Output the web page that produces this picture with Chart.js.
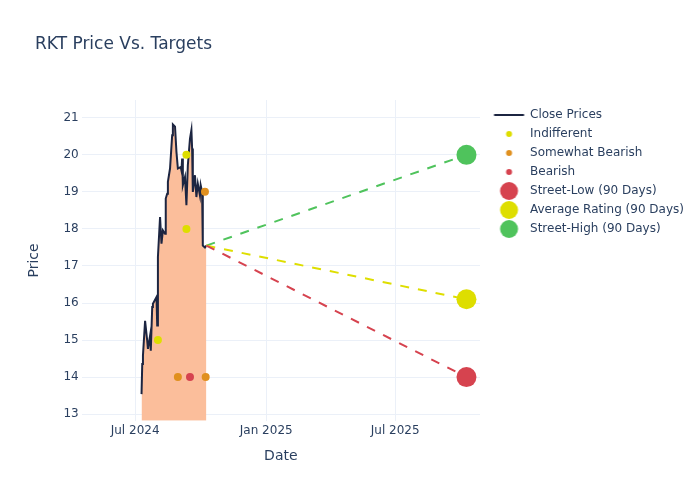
<!DOCTYPE html>
<html>
<head>
<meta charset="utf-8">
<script src="https://cdn.jsdelivr.net/npm/chart.js@4.4.1/dist/chart.umd.min.js"></script>
<style>
  body { margin: 0; background: #fff; }
  #wrap { width: 700px; height: 500px; }
</style>
</head>
<body>
<div id="wrap"><canvas id="chart" width="700" height="500"></canvas></div>
<script>
const titleText = "RKT Price Vs. Targets";

const closeDates = [
  "2024-07-10", "2024-07-11", "2024-07-12", "2024-07-15", "2024-07-18", "2024-07-19",
  "2024-07-22", "2024-07-23", "2024-07-25", "2024-07-26", "2024-07-31", "2024-08-01",
  "2024-08-02", "2024-08-05", "2024-08-07", "2024-08-09", "2024-08-12", "2024-08-13",
  "2024-08-15", "2024-08-16", "2024-08-19", "2024-08-22", "2024-08-23", "2024-08-26",
  "2024-08-28", "2024-08-30", "2024-09-03", "2024-09-04", "2024-09-05", "2024-09-06",
  "2024-09-09", "2024-09-11", "2024-09-13", "2024-09-16", "2024-09-18", "2024-09-19",
  "2024-09-20", "2024-09-23", "2024-09-25", "2024-09-27", "2024-09-30", "2024-10-01",
  "2024-10-03", "2024-10-04", "2024-10-07", "2024-10-09"
];
const closePrices = [
  13.54, 14.35, 14.58, 15.52, 14.98, 14.76,
  15.12, 14.71, 15.89, 15.98, 16.16, 15.39,
  17.24, 18.32, 17.60, 17.96, 17.87, 18.82,
  18.95, 19.27, 19.63, 20.53, 20.82, 20.76,
  20.08, 19.63, 19.67, 19.58, 19.90, 19.18,
  19.40, 18.64, 19.72, 20.44, 20.67, 20.17,
  19.00, 19.45, 18.86, 19.22, 18.90, 19.18,
  19.00, 17.55, 17.50, 17.55
];

const indifferentDates = ["2024-08-02", "2024-09-11", "2024-09-11"];
const indifferentValues = [15, 20, 18];
const somewhatBearishDates = ["2024-08-30", "2024-10-07", "2024-10-08"];
const somewhatBearishValues = [14, 19, 14];
const bearishDates = ["2024-09-16"];
const bearishValues = [14];

const targetDate = "2025-10-09";
const streetLow = 14;
const averageRating = 16.1;
const streetHigh = 20;

const xTickDates = ["2024-07-01", "2025-01-01", "2025-07-01"];
const xTickLabels = ["Jul 2024", "Jan 2025", "Jul 2025"];

const t = s => Date.parse(s + "T00:00:00Z");
const pts = (dates, vals) => dates.map((d, i) => ({ x: t(d), y: vals[i] }));

const navy = "#1c2541";
const yellow = "#dede00";
const orange = "#e0901f";
const red = "#d6434f";
const green = "#4fc35c";

const lastDate = closeDates[closeDates.length - 1];
const lastClose = closePrices[closePrices.length - 1];

function icon(draw) {
  const c = document.createElement("canvas");
  c.width = 44; c.height = 20;
  draw(c.getContext("2d"));
  return c;
}
function dotIcon(color, r) {
  return icon(ctx => {
    ctx.fillStyle = color;
    ctx.beginPath();
    ctx.arc(25.5, 10, r, 0, Math.PI * 2);
    ctx.fill();
  });
}
const legendIcons = [
  icon(ctx => {
    ctx.strokeStyle = navy; ctx.lineWidth = 2;
    ctx.beginPath(); ctx.moveTo(10.5, 10); ctx.lineTo(40.5, 10); ctx.stroke();
  }),
  dotIcon(yellow, 3), dotIcon(orange, 3), dotIcon(red, 3),
  dotIcon(red, 9), dotIcon(yellow, 9), dotIcon(green, 9)
];

const titlePlugin = {
  id: "plotTitle",
  afterDraw(chart) {
    const ctx = chart.ctx;
    ctx.save();
    ctx.font = '17px "DejaVu Sans"';
    ctx.fillStyle = "#2a3f5f";
    ctx.textBaseline = "middle";
    ctx.fillText(titleText, 35, 45);
    ctx.restore();
  }
};

Chart.defaults.font.family = '"DejaVu Sans", sans-serif';
Chart.defaults.font.size = 12;
Chart.defaults.color = "#2a3f5f";

const dashLine = (label, value, color) => ({
  label: label,
  data: [{ x: t(lastDate), y: lastClose }, { x: t(targetDate), y: value }],
  borderColor: color,
  borderWidth: 2,
  borderDash: [9, 9],
  pointRadius: 0,
  fill: false,
  order: 20
});
const dots = (label, data, color, r, order) => ({
  label: label,
  data: data,
  showLine: false,
  pointRadius: r,
  pointHoverRadius: r,
  pointBackgroundColor: color,
  pointBorderWidth: 0,
  borderColor: color,
  backgroundColor: color,
  order: order
});

new Chart(document.getElementById("chart"), {
  type: "line",
  data: {
    datasets: [
      {
        label: "Close Prices",
        data: pts(closeDates, closePrices),
        borderColor: navy,
        borderWidth: 2,
        backgroundColor: "#fbbe9b",
        fill: "start",
        pointRadius: 0,
        tension: 0,
        order: 30
      },
      dots("Indifferent", pts(indifferentDates, indifferentValues), yellow, 4, 10),
      dots("Somewhat Bearish", pts(somewhatBearishDates, somewhatBearishValues), orange, 4, 10),
      dots("Bearish", pts(bearishDates, bearishValues), red, 4, 10),
      dots("Street-Low (90 Days)", [{ x: t(targetDate), y: streetLow }], red, 10, 0),
      dots("Average Rating (90 Days)", [{ x: t(targetDate), y: averageRating }], yellow, 10, 0),
      dots("Street-High (90 Days)", [{ x: t(targetDate), y: streetHigh }], green, 10, 0),
      dashLine("low line", streetLow, red),
      dashLine("avg line", averageRating, yellow),
      dashLine("high line", streetHigh, green)
    ]
  },
  options: {
    responsive: false,
    animation: false,
    layout: { padding: { top: 100, left: 21.6, right: 6, bottom: 31 } },
    plugins: {
      tooltip: { enabled: false },
      legend: {
        position: "right",
        align: "start",
        maxWidth: 240,
        // empty title only nudges the items down a couple of pixels
        title: { display: true, text: "", font: { size: 1 }, padding: 0.4 },
        labels: {
          usePointStyle: true,
          pointStyleWidth: 37,
          padding: 7,
          color: "#2a3f5f",
          font: { size: 12 },
          generateLabels(chart) {
            return Chart.defaults.plugins.legend.labels.generateLabels(chart)
              .filter(item => item.datasetIndex < 7)
              .map(item => Object.assign(item, { pointStyle: legendIcons[item.datasetIndex] }));
          },
          sort: (a, b) => a.datasetIndex - b.datasetIndex
        },
        onClick: null
      }
    },
    scales: {
      x: {
        type: "linear",
        min: t("2024-04-17"),
        max: t("2025-10-28"),
        afterBuildTicks: axis => { axis.ticks = xTickDates.map(d => ({ value: t(d) })); },
        ticks: {
          padding: 3,
          maxRotation: 0,
          autoSkip: false,
          callback: (value, i) => xTickLabels[i]
        },
        grid: { color: "#ebf0f8", drawTicks: false },
        border: { display: false },
        title: { display: true, text: "Date", font: { size: 14 }, padding: { top: 7, bottom: 4 } }
      },
      y: {
        min: 12.82,
        max: 21.48,
        ticks: { stepSize: 1, includeBounds: false, padding: 3 },
        grid: { color: "#ebf0f8", drawTicks: false },
        border: { display: false },
        title: { display: true, text: "Price", font: { size: 14 }, padding: { top: 4, bottom: 18 } }
      }
    }
  },
  plugins: [titlePlugin]
});
</script>
</body>
</html>
